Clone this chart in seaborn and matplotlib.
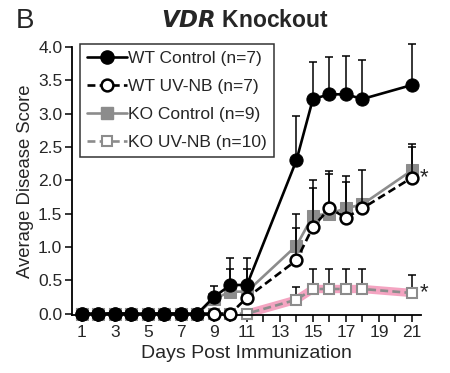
import numpy as np
import matplotlib
matplotlib.use("Agg")
import matplotlib.pyplot as plt
import seaborn as sns

# days of measurement
days = [1, 2, 3, 4, 5, 6, 7, 8, 9, 10, 11, 14, 15, 16, 17, 18, 21]

# mean disease scores
wt_ctrl = [0, 0, 0, 0, 0, 0, 0, 0, 0.25, 0.43, 0.43, 2.30, 3.22, 3.29, 3.29, 3.22, 3.43]
wt_uv = [0, 0, 0, 0, 0, 0, 0, 0, 0, 0, 0.24, 0.80, 1.30, 1.58, 1.44, 1.58, 2.04]
ko_ctrl = [0, 0, 0, 0, 0, 0, 0, 0, 0.22, 0.33, 0.33, 1.02, 1.47, 1.50, 1.58, 1.64, 2.15]
ko_uv = [0, 0, 0, 0, 0, 0, 0, 0, 0, 0, 0, 0.21, 0.37, 0.37, 0.37, 0.37, 0.31]

# upper end of the error bars
wt_ctrl_top = [0, 0, 0, 0, 0, 0, 0, 0, 0.42, 0.84, 0.84, 2.96, 3.77, 3.85, 3.87, 3.80, 4.04]
wt_uv_top = [0, 0, 0, 0, 0, 0, 0, 0, 0, 0, 0.24, 1.29, 2.00, 2.14, 2.07, 2.15, 2.50]
ko_ctrl_top = [0, 0, 0, 0, 0, 0, 0, 0, 0.22, 0.67, 0.67, 1.50, 1.89, 2.09, 1.97, 1.64, 2.55]
ko_uv_top = [0, 0, 0, 0, 0, 0, 0, 0, 0, 0, 0, 0.40, 0.67, 0.67, 0.67, 0.67, 0.58]

labels = ["WT Control (n=7)", "WT UV-NB (n=7)", "KO Control (n=9)", "KO UV-NB (n=10)"]

sns.set_style("ticks")
plt.rcParams['font.family'] = ['Liberation Sans', 'DejaVu Sans']

fig = plt.figure(figsize=(4.5, 3.73), dpi=100)
ax = fig.add_axes([0.16, 0.1555, 0.7756, 0.7185])

gray = '#8c8c8c'

# pink highlight under KO UV-NB
hl = [i for i, d in enumerate(days) if d >= 11]
sns.lineplot(x=[days[i] for i in hl], y=[ko_uv[i] for i in hl], ax=ax, color='#f28db2',
             linewidth=6, alpha=0.8, zorder=1, clip_on=False)

series = [
    (ko_uv, ko_uv_top, dict(color=gray, linestyle=(0, (3, 1.6)), marker='s', markersize=7.5,
                            markerfacecolor='white', markeredgecolor=gray, markeredgewidth=1.5), 2),
    (ko_ctrl, ko_ctrl_top, dict(color=gray, linestyle='-', marker='s', markersize=8,
                                markerfacecolor=gray, markeredgecolor=gray), 3),
    (wt_uv, wt_uv_top, dict(color='black', linestyle=(0, (3, 1.6)), marker='o', markersize=8.5,
                            markerfacecolor='white', markeredgecolor='black', markeredgewidth=1.8), 4),
    (wt_ctrl, wt_ctrl_top, dict(color='black', linestyle='-', marker='o', markersize=9.5,
                                markerfacecolor='black', markeredgecolor='black'), 5),
]

for vals, tops, style, z in series:
    err = np.array(tops) - np.array(vals)
    ax.errorbar(days, vals, yerr=[np.zeros(len(vals)), err], fmt='none', ecolor='black',
                elinewidth=1.1, capsize=3, capthick=1.1, zorder=z - 0.5, clip_on=False)
    sns.lineplot(x=days, y=vals, ax=ax, linewidth=1.9, zorder=z, clip_on=False, **style)

# legend handles
handles = []
order = [3, 2, 1, 0]
for k, lab in zip(order, labels):
    st = series[k][2]
    h, = ax.plot([], [], linewidth=1.9, label=lab, **st)
    handles.append(h)
leg = ax.legend(handles=handles, loc='upper left', bbox_to_anchor=(0.022, 1.012), fontsize=12.5,
                frameon=True, fancybox=False, edgecolor='black', handlelength=2.3,
                handletextpad=0.1, labelspacing=0.74, borderpad=0.4, borderaxespad=0)
leg.get_frame().set_linewidth(1.1)
leg.set_zorder(10)

# asterisks
ax.text(21.5, wt_uv[-1], '*', fontsize=16, va='center', ha='left')
ax.text(21.5, ko_uv[-1], '*', fontsize=16, va='center', ha='left')

ax.set_xlim(0.4, 21.55)
ax.set_ylim(-0.02, 4.0)
ax.set_xticks(range(1, 22))
ax.set_xticklabels([str(d) if d % 2 == 1 else '' for d in range(1, 22)])
ax.set_yticks(np.arange(0, 4.01, 0.5))
ax.set_yticklabels([f'{v:.1f}' for v in np.arange(0, 4.01, 0.5)])
ax.tick_params(axis='both', labelsize=12.5, length=5, width=1.1, color='black', pad=2)
for s in ['left', 'bottom']:
    ax.spines[s].set_linewidth(1.3)
    ax.spines[s].set_color('black')
sns.despine(ax=ax)

ax.set_xlabel('Days Post Immunization', fontsize=14, labelpad=4)
ax.set_ylabel('Average Disease Score', fontsize=13.3, labelpad=3)

fig.text(0.545, 0.945, r'$\bfit{VDR}$ Knockout', fontsize=16.5, fontweight='bold', ha='center', va='center')
fig.text(0.035, 0.945, 'B', fontsize=20, ha='left', va='center')

fig.savefig('out.png', dpi=100)
